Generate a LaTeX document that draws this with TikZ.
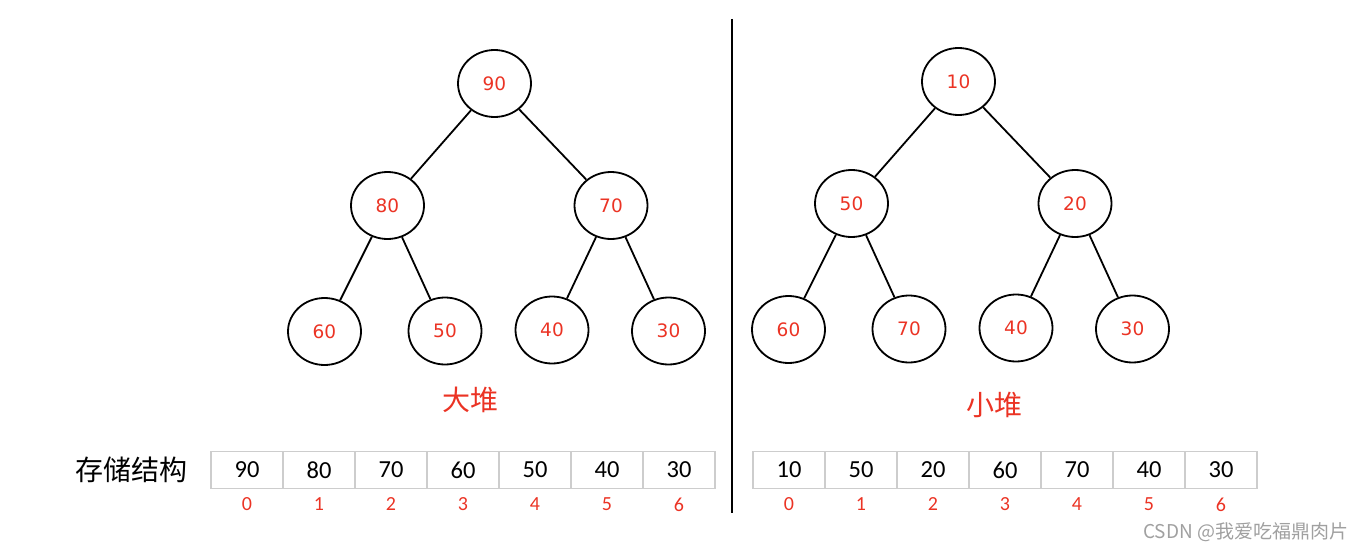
\documentclass[tikz,border=0pt]{standalone}
\usepackage{fontspec}
\setmainfont{Carlito}
\newfontfamily\numfont{DejaVu Sans}
\newfontfamily\cjkfont{Noto Sans CJK SC}
\usetikzlibrary{shapes.geometric}

\definecolor{heapred}{RGB}{235,51,36}
\definecolor{cellgray}{RGB}{205,205,205}
\definecolor{markgray}{RGB}{160,160,160}

\tikzset{
  heapnode/.style={draw,ellipse,line width=1.8pt,inner sep=0pt,
    minimum width=73pt,minimum height=67pt,text=heapred,
    font=\numfont\fontsize{18.5}{18.5}\selectfont},
  edge/.style={line width=1.8pt},
  cell/.style={draw=cellgray,line width=1.4pt,minimum width=72pt,
    minimum height=37.5pt,inner sep=0pt,font=\fontsize{24.5}{24.5}\selectfont},
  idx/.style={text=heapred,font=\fontsize{20}{20}\selectfont},
  title/.style={text=heapred,font=\cjkfont\fontsize{28}{28}\selectfont}
}

\begin{document}
\begin{tikzpicture}[x=1pt,y=-1pt]
  \useasboundingbox (0,0) rectangle (1369,551);

  % max heap
  \node[heapnode] (a1) at (494.5,83.5) {90};
  \node[heapnode] (a2) at (387.5,205.5) {80};
  \node[heapnode] (a3) at (611,205.5) {70};
  \node[heapnode] (a4) at (324.5,331.5) {60};
  \node[heapnode] (a5) at (445,331) {50};
  \node[heapnode] (a6) at (552,330) {40};
  \node[heapnode] (a7) at (668.5,331) {30};

  % min heap
  \node[heapnode] (b1) at (958.5,81.5) {10};
  \node[heapnode] (b2) at (851.5,203.5) {50};
  \node[heapnode] (b3) at (1075,203.5) {20};
  \node[heapnode] (b4) at (788.5,329.5) {60};
  \node[heapnode] (b5) at (909,329) {70};
  \node[heapnode] (b6) at (1016,328) {40};
  \node[heapnode] (b7) at (1132.5,329) {30};

  \foreach \p/\c in {1/2,1/3,2/4,2/5,3/6,3/7} {
    \draw[edge] (a\p) -- (a\c);
    \draw[edge] (b\p) -- (b\c);
  }

  \node[title] (maxlabel) at (470,400) {大堆};
  \node[title] (minlabel) at (994.5,405) {小堆};

  % divider
  \draw[line width=2pt] (732,19) -- (732,513);

  % storage
  \node[font=\cjkfont\fontsize{28}{28}\selectfont] (store) at (131.5,470) {存储结构};
  \foreach \v [count=\i from 0] in {90,80,70,60,50,40,30} {
    \node[cell] (ca\i) at (247+72*\i,470) {\v};
    \node[idx] (ia\i) at (247+72*\i,504.5) {\i};
  }
  \foreach \v [count=\i from 0] in {10,50,20,60,70,40,30} {
    \node[cell] (cb\i) at (789+72*\i,470) {\v};
    \node[idx] (ib\i) at (789+72*\i,504.5) {\i};
  }

  \node[anchor=west,inner sep=0pt,text=markgray,
    font=\cjkfont\fontsize{19}{19}\selectfont] (mark) at (1143,532) {CSDN @我爱吃福鼎肉片};
\end{tikzpicture}
\end{document}
